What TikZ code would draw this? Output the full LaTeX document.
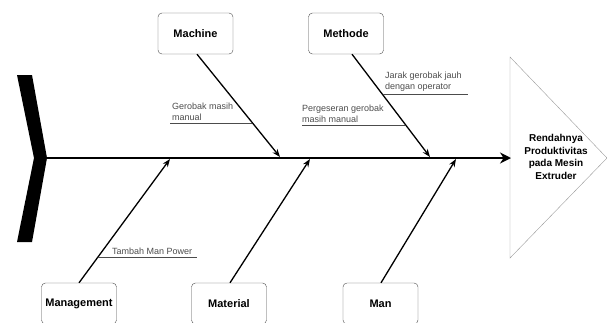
\documentclass[tikz,border=0pt]{standalone}
\usepackage{fontspec}
\setmainfont{Liberation Sans}
\usetikzlibrary{arrows.meta,positioning,shapes}

\begin{document}
\begin{tikzpicture}[x=1pt,y=-1pt,
        cause/.style={
                draw=black!70,
                rounded corners=4pt,
                minimum width=75pt,
                minimum height=41pt,
                inner sep=0pt,
                font=\fontsize{11}{13}\selectfont\bfseries
            },
        effect/.style={
                align=center,
                inner sep=0pt,
                font=\fontsize{10}{12.4}\selectfont\bfseries
            },
        note/.style={
                text=black!70,
                align=left,
                anchor=south west,
                inner sep=1pt,
                font=\fontsize{9}{11.5}\selectfont
            },
        bone/.style={line width=1.3pt,-{Stealth[length=8pt,width=6pt]}},
        uline/.style={black!70,thin},
    ]
    \useasboundingbox (0,0) rectangle (607,322);
    %tail
    \fill (17,75) -- (32,75) -- (47,158) -- (32,242) -- (17,242) -- (34,158) -- cycle;
    %head
    \draw[black!40] (510,57) -- (607,158) -- (510,258) -- cycle;
    \node[effect] (effect) at (556,157) {Rendahnya\\Produktivitas\\pada Mesin\\Extruder};
    \coordinate (tail) at (44,158);
    \coordinate (head) at (511,158);
    \draw[line width=2.6pt,-{Stealth[length=11pt,width=11pt]}] (tail) -- (head);
    %causes
    \node[cause] (machine) at (195.5,33.5) {Machine};
    \node[cause] (methode) at (346,33.5) {Methode};
    \node[cause] (management) at (79,303.5) {Management};
    \node[cause] (material) at (229,303.5) {Material};
    \node[cause] (man) at (380.5,303.5) {Man};
    \coordinate (p1) at (280,157);
    \coordinate (p2) at (430,157);
    \coordinate (p3) at (170,159);
    \coordinate (p4) at (310,159);
    \coordinate (p5) at (456,159);
    \draw[bone] ([xshift=1.5pt]machine.south) -- (p1);
    \draw[bone] ([xshift=6pt]methode.south) -- (p2);
    \draw[bone] (management.north) -- (p3);
    \draw[bone] ([xshift=1pt]material.north) -- (p4);
    \draw[bone] ([xshift=0.5pt]man.north) -- (p5);
    %sub causes
    \node[note] (gerobak) at (171,122) {Gerobak masih\\manual};
    \draw[uline] (170,123) -- (252,123);
    \node[note] (jarak) at (384,93) {Jarak gerobak jauh\\dengan operator};
    \draw[uline] (383,94) -- (468,94);
    \node[note] (geser) at (301,124) {Pergeseran gerobak\\masih manual};
    \draw[uline] (302,125) -- (405,125);
    \node[note] (tambah) at (111,256) {Tambah Man Power};
    \draw[uline] (98,257) -- (197,257);
\end{tikzpicture}
\end{document}
